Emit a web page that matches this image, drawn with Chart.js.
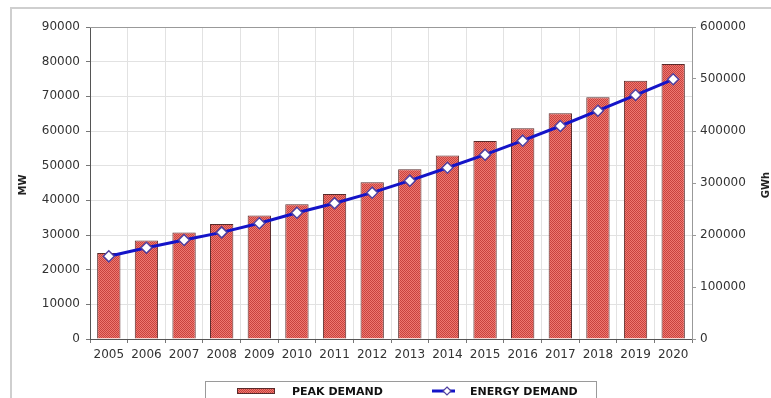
<!DOCTYPE html>
<html><head><meta charset="utf-8">
<style>html,body{margin:0;padding:0;background:#fff;overflow:hidden}#wrap{position:relative;width:771px;height:398px}</style>
<script src="https://cdn.jsdelivr.net/npm/chart.js@4"></script>
</head><body><div id="wrap"><canvas id="c" width="771" height="398"></canvas></div>
<script>
const years = ['2005','2006','2007','2008','2009','2010','2011','2012','2013','2014','2015','2016','2017','2018','2019','2020'];
const peakDemandMW = [24800,28400,30700,33200,35600,38900,41800,45200,49000,52900,57100,60800,65100,69700,74500,79300];
const energyDemandGWh = [159000,175600,190400,205000,222500,242900,261000,281400,304500,329400,354400,381400,409600,439000,469200,499400];
const mwAxis = {min:0, max:90000, step:10000, title:'MW'};
const gwhAxis = {min:0, max:600000, step:100000, title:'GWh'};
const seriesLabels = ['PEAK DEMAND','ENERGY DEMAND'];

const canvas = document.getElementById('c');
const ctx0 = canvas.getContext('2d');
function makePattern(){
  const p=document.createElement('canvas');p.width=2;p.height=2;
  const g=p.getContext('2d');
  g.fillStyle='#ee7870';g.fillRect(0,0,2,2);
  g.fillStyle='#c8423e';g.fillRect(0,0,1,1);g.fillRect(1,1,1,1);
  return ctx0.createPattern(p,'repeat');
}
const barFill = makePattern();
const lineColor = '#1414c8';
const tickFont = {family:'DejaVu Sans', size:12};
const txtColor = '#333';
const plainNum = v => String(v);

const decor = {
  id:'decor',
  beforeDraw(chart){
    const c=chart.ctx;
    c.save();
    c.strokeStyle='#cfcfcf';c.lineWidth=2;
    c.strokeRect(11,8,800,420);
    c.restore();
  },
  beforeDatasetsDraw(chart){
    const c=chart.ctx, a=chart.chartArea;
    c.save();
    c.strokeStyle='#999';c.lineWidth=1;
    c.beginPath();c.moveTo(a.left,a.top+0.5);c.lineTo(a.right,a.top+0.5);c.stroke();
    c.restore();
  },
  afterDraw(chart){
    const c=chart.ctx, a=chart.chartArea;
    c.save();
    c.fillStyle='#222';
    c.font='bold 10px "DejaVu Sans"';
    c.textAlign='center';c.textBaseline='middle';
    const cy=(a.top+a.bottom)/2+2;
    c.save();c.translate(23,cy);c.rotate(-Math.PI/2);c.fillText(mwAxis.title,0,0);c.restore();
    c.save();c.translate(766,cy);c.rotate(-Math.PI/2);c.fillText(gwhAxis.title,0,0);c.restore();
    c.strokeStyle='#9a9a9a';c.lineWidth=1;
    c.strokeRect(205.5,381.5,391,30);
    c.fillStyle=barFill;c.fillRect(237,388,38,6);
    c.strokeStyle='#5a2a2a';c.strokeRect(237.5,388.5,37,5);
    c.fillStyle='#111';c.font='bold 11px "DejaVu Sans"';c.textAlign='left';
    c.fillText(seriesLabels[0],292,392);
    c.strokeStyle=lineColor;c.lineWidth=3;
    c.beginPath();c.moveTo(432,391);c.lineTo(455,391);c.stroke();
    c.fillStyle='#fff';c.strokeStyle='#5040a0';c.lineWidth=1.2;
    c.beginPath();c.moveTo(447,387);c.lineTo(451,391);c.lineTo(447,395);c.lineTo(443,391);c.closePath();c.fill();c.stroke();
    c.fillStyle='#111';
    c.fillText(seriesLabels[1],470,392);
    c.restore();
  }
};

new Chart(canvas,{
  data:{
    labels:years,
    datasets:[
      {type:'line',label:seriesLabels[1],data:energyDemandGWh,yAxisID:'y2',order:0,
       borderColor:lineColor,borderWidth:3,pointStyle:'rectRot',pointRadius:5.5,
       pointBackgroundColor:'#fff',pointBorderColor:'#5040a0',pointBorderWidth:1.5,tension:0},
      {type:'bar',label:seriesLabels[0],data:peakDemandMW,yAxisID:'y',order:1,
       backgroundColor:barFill,borderColor:'#5a2a2a',borderWidth:1,
       categoryPercentage:1,barPercentage:0.62}
    ]
  },
  options:{
    responsive:false,animation:false,
    layout:{padding:{top:27,left:0,right:0,bottom:0}},
    plugins:{legend:{display:false},tooltip:{enabled:false}},
    events:[],
    scales:{
      x:{grid:{offset:true,color:'#e2e2e2',tickColor:'#777',tickLength:4},
         border:{color:'#555'},
         ticks:{font:tickFont,color:txtColor,padding:5,maxRotation:0,autoSkip:false},
         afterFit(s){s.height=59;}},
      y:{position:'left',min:mwAxis.min,max:mwAxis.max,
         ticks:{stepSize:mwAxis.step,font:tickFont,color:txtColor,padding:6,callback:plainNum},
         grid:{color:'#e2e2e2',tickColor:'#777',tickLength:4},
         border:{color:'#555'},
         afterFit(s){s.width=90;}},
      y2:{position:'right',min:gwhAxis.min,max:gwhAxis.max,
         ticks:{stepSize:gwhAxis.step,font:tickFont,color:txtColor,padding:4,callback:plainNum},
         grid:{drawOnChartArea:false,tickColor:'#999',tickLength:4},
         border:{color:'#999'},
         afterFit(s){s.width=79;}}
    }
  },
  plugins:[decor]
});
</script></body></html>
